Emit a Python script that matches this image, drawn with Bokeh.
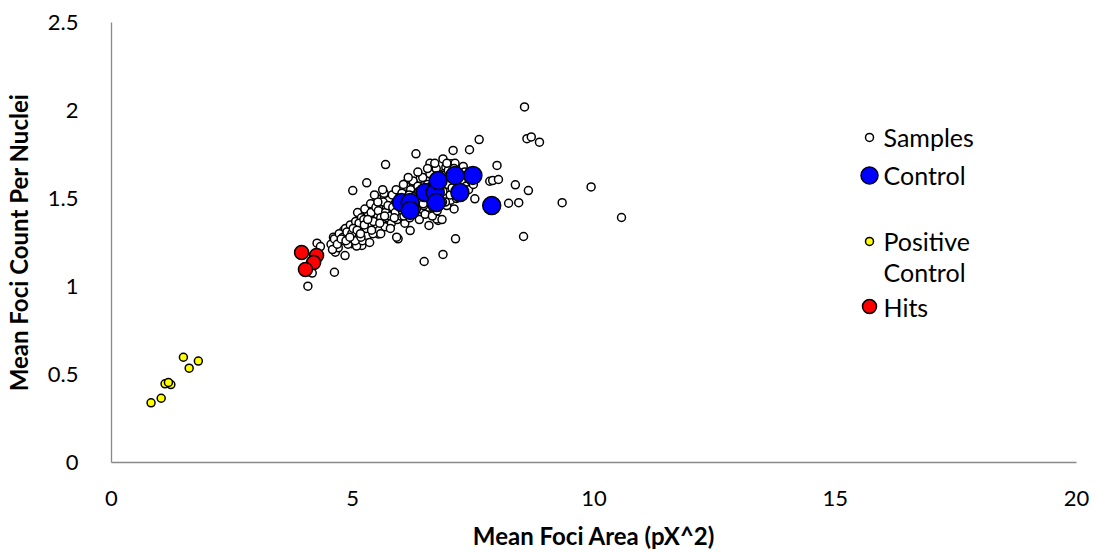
from bokeh.plotting import figure
from bokeh.models import Range1d, FixedTicker, Label
from bokeh.embed import file_html
from bokeh.resources import INLINE

# ---------------- data ----------------
sample_x = [8.56, 8.61, 8.70, 8.87, 7.62, 7.08, 7.42, 7.99, 7.84, 7.90, 8.02, 8.37, 8.64,
            8.23, 8.44, 9.34, 9.94, 10.57, 8.54, 7.13, 7.53, 7.10, 6.87, 6.48, 5.94, 6.77,
            6.58, 6.19, 6.31, 5.68, 5.29, 5.00, 6.87, 7.04, 7.29, 6.63, 6.40, 6.11, 6.93,
            4.07, 4.62, 4.84, 4.26, 4.33, 4.16, 4.64, 4.60, 4.74, 4.81, 4.98, 5.19, 5.02,
            5.15, 5.36, 5.53, 5.74, 5.91, 4.67, 4.88, 5.05, 5.26, 5.46, 5.60, 5.43, 5.81,
            6.74, 7.12, 6.88, 6.60, 6.19,
            4.55, 4.62, 4.70, 4.72, 4.78, 4.85, 4.90, 4.92, 4.95, 5.00, 5.03, 5.06, 5.08,
            5.10, 5.12, 5.15, 5.18, 5.20, 5.22, 5.25, 5.27, 5.30, 5.32, 5.35, 5.37, 5.40,
            5.42, 5.45, 5.47, 5.50, 5.52, 5.55, 5.57, 5.60, 5.62, 5.65, 5.67, 5.70, 5.72,
            5.75, 5.77, 5.80, 5.82, 5.85, 5.87, 5.90, 5.92, 5.95, 5.97, 6.00, 6.02, 6.05,
            6.08, 6.10, 6.12, 6.15, 6.18, 6.20, 6.23, 6.25, 6.28, 6.30, 6.33, 6.35, 6.38,
            6.40, 6.42, 6.45, 6.48, 6.50, 6.53, 6.55, 6.58, 6.60, 6.63, 6.65, 6.68, 6.70,
            6.73, 6.75, 6.78, 6.80, 6.83, 6.85, 6.88, 6.90, 6.93, 6.95, 6.98, 7.00, 7.03,
            7.05, 7.08, 7.10, 7.13, 7.15, 7.18, 7.20, 7.25, 7.28, 7.32, 7.35, 7.40, 7.45,
            7.50,
            4.80, 4.88, 4.98, 5.05, 5.13, 5.17, 5.23, 5.28, 5.33, 5.38, 5.43, 5.48, 5.53,
            5.58, 5.63, 5.68, 5.73, 5.78, 5.83, 5.88, 5.93, 5.98, 6.03, 6.07, 6.13, 6.17,
            6.22, 6.27, 6.32, 6.37, 6.43, 6.47, 6.52, 6.57, 6.62, 6.67, 6.72, 6.77, 6.82,
            6.87, 6.92, 6.97, 7.02,
            5.35, 5.58, 5.78, 5.62, 5.52, 5.45, 6.05, 6.15, 6.35, 6.55, 6.70, 6.95,
            4.58, 4.68, 4.76, 4.86, 4.94, 5.01, 5.09, 5.16, 5.24, 5.31, 5.39, 5.56, 5.66,
            5.86, 6.06, 6.26, 6.46, 6.66, 6.86, 7.06]
sample_y = [2.02, 1.84, 1.85, 1.82, 1.835, 1.773, 1.777, 1.688, 1.598, 1.602, 1.608, 1.578, 1.545,
            1.473, 1.476, 1.476, 1.566, 1.392, 1.284, 1.271, 1.498, 1.441, 1.182, 1.142, 1.271, 1.375,
            1.347, 1.318, 1.754, 1.693, 1.589, 1.545, 1.725, 1.697, 1.682, 1.659, 1.614, 1.587, 1.678,
            1.002, 1.081, 1.176, 1.246, 1.227, 1.076, 1.195, 1.280, 1.290, 1.318, 1.243, 1.233, 1.347,
            1.403, 1.337, 1.299, 1.337, 1.280, 1.252, 1.299, 1.299, 1.271, 1.375, 1.413, 1.441, 1.422,
            1.384, 1.700, 1.640, 1.700, 1.560,
            1.24, 1.27, 1.22, 1.30, 1.26, 1.33, 1.24, 1.29, 1.35, 1.27, 1.31, 1.37, 1.23,
            1.42, 1.29, 1.34, 1.39, 1.26, 1.31, 1.44, 1.36, 1.29, 1.40, 1.33, 1.47, 1.38,
            1.30, 1.43, 1.35, 1.50, 1.40, 1.32, 1.46, 1.37, 1.42, 1.53, 1.34, 1.45, 1.39,
            1.49, 1.43, 1.36, 1.52, 1.41, 1.47, 1.55, 1.38, 1.44, 1.50, 1.40, 1.53, 1.46,
            1.36, 1.57, 1.43, 1.50, 1.39, 1.55, 1.45, 1.60, 1.41, 1.52, 1.47, 1.57, 1.38,
            1.50, 1.44, 1.62, 1.53, 1.41, 1.48, 1.58, 1.45, 1.64, 1.51, 1.40, 1.56, 1.47,
            1.67, 1.43, 1.54, 1.60, 1.50, 1.38, 1.63, 1.52, 1.57, 1.46, 1.66, 1.55, 1.49,
            1.61, 1.53, 1.67, 1.58, 1.50, 1.63, 1.56, 1.60, 1.52, 1.65, 1.57, 1.55, 1.60,
            1.58,
            1.28, 1.31, 1.30, 1.26, 1.36, 1.28, 1.38, 1.33, 1.36, 1.42, 1.37, 1.45, 1.43,
            1.39, 1.48, 1.42, 1.46, 1.40, 1.45, 1.42, 1.48, 1.46, 1.43, 1.49, 1.47, 1.52,
            1.48, 1.51, 1.44, 1.54, 1.52, 1.46, 1.55, 1.52, 1.57, 1.50, 1.55, 1.49, 1.57,
            1.54, 1.48, 1.58, 1.52,
            1.25, 1.30, 1.33, 1.55, 1.48, 1.52, 1.58, 1.62, 1.65, 1.67, 1.70, 1.70,
            1.21, 1.24, 1.27, 1.26, 1.28, 1.33, 1.32, 1.30, 1.35, 1.38, 1.32, 1.36, 1.40,
            1.39, 1.40, 1.43, 1.47, 1.45, 1.48, 1.56]

control_x = [6.01, 6.19, 6.19, 6.50, 6.71, 6.77, 6.73, 7.12, 7.22, 7.49, 7.88]
control_y = [1.477, 1.477, 1.432, 1.534, 1.534, 1.602, 1.477, 1.631, 1.534, 1.631, 1.460]

positive_x = [0.82, 1.03, 1.11, 1.23, 1.18, 1.49, 1.61, 1.80]
positive_y = [0.339, 0.365, 0.447, 0.443, 0.455, 0.598, 0.536, 0.576]

hits_x = [3.94, 4.25, 4.19, 4.02]
hits_y = [1.193, 1.176, 1.136, 1.097]

x_ticks = [0, 5, 10, 15, 20]
x_tick_labels = ["0", "5", "10", "15", "20"]
y_ticks = [0, 0.5, 1, 1.5, 2, 2.5]
y_tick_labels = ["0", "0.5", "1", "1.5", "2", "2.5"]

legend_labels = ["Samples", "Control", "Positive\nControl", "Hits"]

# ---------------- styling ----------------
FONT = "Lato"
FS = "22px"
TITLE_FS = "24px"
LEG_FS = "25px"

p = figure(width=1096, height=552, output_backend="svg", toolbar_location=None,
           x_range=Range1d(0, 20), y_range=Range1d(0, 2.5),
           min_border_left=107, min_border_right=20, min_border_top=22, min_border_bottom=90)
p.outline_line_color = None
p.xgrid.grid_line_color = None
p.ygrid.grid_line_color = None
p.background_fill_color = "white"

for ax in (p.xaxis[0], p.yaxis[0]):
    ax.axis_line_color = "#898989"
    ax.axis_line_width = 1.3
    ax.major_tick_line_color = None
    ax.minor_tick_line_color = None
    ax.major_label_text_font = FONT
    ax.major_label_text_font_size = FS
    ax.major_label_text_color = "black"
    ax.axis_label_text_font = FONT
    ax.axis_label_text_font_size = TITLE_FS
    ax.axis_label_text_font_style = "bold"
    ax.axis_label_text_color = "black"

p.xaxis.ticker = FixedTicker(ticks=x_ticks)
p.yaxis.ticker = FixedTicker(ticks=y_ticks)
p.xaxis.major_label_overrides = {t: l for t, l in zip(x_ticks, x_tick_labels)}
p.yaxis.major_label_overrides = {t: l for t, l in zip(y_ticks, y_tick_labels)}
p.xaxis.axis_label = "Mean Foci Area (pX^2)"
p.yaxis.axis_label = "Mean Foci Count Per Nuclei"
p.xaxis.major_label_standoff = 22
p.yaxis.major_label_standoff = 27
p.xaxis.axis_label_standoff = 12
p.yaxis.axis_label_standoff = 12

# ---------------- glyphs ----------------
p.scatter(sample_x, sample_y, size=8, fill_color="white", line_color="black", line_width=1.5)
p.scatter(control_x, control_y, size=18, fill_color="#0000FF", line_color="black", line_width=1.5)
p.scatter(positive_x, positive_y, size=8, fill_color="#FFFF00", line_color="black", line_width=1.5)
p.scatter(hits_x, hits_y, size=14, fill_color="#FF0000", line_color="black", line_width=1.5)

# ---------------- legend (manual, to keep per-series marker sizes) ----------------
LX_MARK = 15.71
LX_TEXT = 16.0
leg_y = [1.847, 1.631, 1.256, 0.886]
leg_size = [8, 17, 8, 14]
leg_fill = ["white", "#0000FF", "#FFFF00", "#FF0000"]
p.scatter([LX_MARK] * 4, leg_y, size=leg_size, fill_color=leg_fill,
          line_color="black", line_width=1.5)
line_gap = 0.176
for yy, lab in zip(leg_y, legend_labels):
    for k, part in enumerate(lab.split("\n")):
        p.add_layout(Label(x=LX_TEXT, y=yy - k * line_gap, text=part, text_font=FONT,
                           text_font_size=LEG_FS, text_color="black", text_baseline="middle",
                           text_align="left"))

open("out.html", "w").write(file_html(p, INLINE))
